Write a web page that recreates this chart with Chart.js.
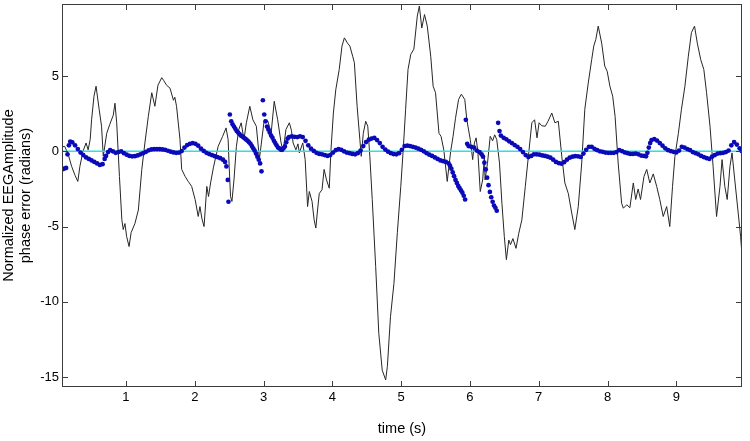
<!DOCTYPE html>
<html>
<head>
<meta charset="utf-8">
<script src="https://cdn.jsdelivr.net/npm/chart.js@4"></script>
<style>
  html, body { margin: 0; padding: 0; background: #fff; }
  #wrap { width: 750px; height: 441px; }
</style>
</head>
<body>
<div id="wrap"><canvas id="eeg"></canvas></div>
<script>
// axis ticks
const xTicks = [1, 2, 3, 4, 5, 6, 7, 8, 9];
const yTicks = [-15, -10, -5, 0, 5];

// black trace: normalized EEG amplitude
const eegTime = [
  0.07, 0.11, 0.16, 0.21, 0.26, 0.30, 0.33, 0.375, 0.42, 0.45, 0.48, 0.50, 0.535, 0.565, 0.61, 0.645, 0.67, 0.72, 0.765, 0.815,
  0.84, 0.865, 0.905, 0.94, 0.96, 0.985, 1.01, 1.045, 1.075, 1.13, 1.18, 1.23, 1.275, 1.325, 1.375, 1.42, 1.465, 1.52, 1.55, 1.59,
  1.64, 1.69, 1.71, 1.735, 1.785, 1.81, 1.86, 1.905, 1.955, 2.005, 2.05, 2.075, 2.105, 2.135, 2.175, 2.2, 2.23, 2.27, 2.34, 2.405,
  2.455, 2.485, 2.50, 2.52, 2.54, 2.57, 2.605, 2.64, 2.675, 2.715, 2.75, 2.80, 2.845, 2.895, 2.94, 3.01, 3.065, 3.11, 3.155, 3.205,
  3.255, 3.285, 3.325, 3.375, 3.405, 3.43, 3.47, 3.50, 3.52, 3.57, 3.605, 3.64, 3.665, 3.705, 3.735, 3.76, 3.785, 3.81, 3.85, 3.88,
  3.915, 3.955, 3.98, 4.015, 4.05, 4.10, 4.14, 4.175, 4.22, 4.255, 4.295, 4.32, 4.36, 4.40, 4.42, 4.45, 4.485, 4.515, 4.545, 4.58,
  4.63, 4.675, 4.725, 4.775, 4.80, 4.845, 4.895, 4.945, 4.995, 5.03, 5.065, 5.10, 5.14, 5.185, 5.235, 5.265, 5.30, 5.34, 5.38, 5.43,
  5.465, 5.50, 5.55, 5.58, 5.62, 5.67, 5.72, 5.755, 5.79, 5.835, 5.875, 5.925, 5.955, 6.005, 6.04, 6.065, 6.09, 6.115, 6.15, 6.185,
  6.21, 6.22, 6.255, 6.295, 6.33, 6.36, 6.39, 6.43, 6.465, 6.50, 6.53, 6.565, 6.59, 6.625, 6.67, 6.71, 6.755, 6.805, 6.855, 6.90,
  6.94, 6.975, 7.005, 7.045, 7.095, 7.135, 7.19, 7.235, 7.285, 7.335, 7.38, 7.43, 7.48, 7.525, 7.575, 7.625, 7.67, 7.72, 7.77, 7.80,
  7.83, 7.865, 7.915, 7.96, 7.995, 8.035, 8.075, 8.11, 8.155, 8.205, 8.23, 8.28, 8.325, 8.375, 8.41, 8.445, 8.48, 8.53, 8.57, 8.615,
  8.665, 8.715, 8.76, 8.81, 8.86, 8.905, 8.945, 8.98, 9.03, 9.075, 9.125, 9.175, 9.22, 9.265, 9.305, 9.355, 9.40, 9.44, 9.49, 9.535,
  9.585, 9.635, 9.665, 9.705, 9.74, 9.78, 9.81, 9.85, 9.90, 9.935, 9.955
];
const eegAmp = [
  0.3, 0.33, -0.2, -1.0, -1.6, -2.0, -1.0, 0.0, 0.56, 0.1, 0.8, 2.1, 3.67, 4.33, 2.8, 1.67, -0.33, 1.2, 1.8, 2.4,
  3.2, 1.9, -1.67, -4.55, -5.2, -4.8, -5.67, -6.33, -5.4, -4.8, -3.9, -1.2, 0.56, 2.33, 3.9, 3.0, 4.4, 4.9, 4.7, 4.4,
  4.2, 3.4, 3.6, 3.0, 0.8, -1.2, -1.67, -2.0, -2.33, -3.2, -4.33, -3.67, -4.5, -5.0, -2.33, -3.0, -2.1, -1.1, 0.33, 1.0,
  1.56, 0.78, -1.0, -3.0, -3.33, -1.9, 0.33, 1.45, 1.9, 0.78, 1.9, 3.0, 2.1, 1.67, -0.5, 2.1, 2.0, 1.2, 3.33, 2.1,
  0.56, 0.0, 1.45, 1.9, 1.4, 0.56, 0.1, 0.5, -0.1, 0.56, -0.55, -3.67, -2.67, -3.33, -4.55, -5.1, -3.9, -2.8, -2.55, -1.2,
  -1.9, -2.45, 0.1, 2.55, 4.1, 5.45, 7.0, 7.55, 7.2, 7.0, 6.33, 5.9, 3.0, 0.78, -0.33, 1.2, 2.0, 1.67, -0.33, -3.2,
  -7.67, -12.1, -14.55, -15.2, -14.3, -11.0, -8.8, -5.4, -2.33, 0.1, 2.8, 5.45, 6.45, 6.8, 9.0, 9.67, 8.2, 9.1, 8.33, 6.33,
  4.33, 3.9, 1.2, 1.0, 0.1, -2.0, 0.0, 1.0, 2.2, 3.45, 3.8, 3.45, 2.1, 0.78, -0.55, 0.56, 0.9, 0.0, -2.67, -1.9,
  -0.33, -1.9, -0.8, 1.0, 0.7, 1.1, 0.78, -0.78, -3.45, -5.67, -7.2, -5.9, -6.2, -5.8, -6.45, -5.45, -4.55, -2.33, -0.1, 1.9,
  2.1, 0.9, 1.9, 1.7, 1.67, 2.0, 2.55, 1.9, 2.0, -0.33, -2.1, -2.8, -4.1, -5.2, -3.67, -0.78, 2.8, 4.55, 6.1, 7.0,
  7.45, 8.33, 7.2, 5.67, 5.33, 4.33, 3.67, 2.33, -0.78, -3.45, -3.78, -3.55, -3.75, -2.1, -3.2, -2.5, -3.2, -1.67, -1.2, -2.1,
  -1.5, -2.33, -3.2, -4.33, -3.67, -5.0, -2.33, -0.33, 1.2, 2.8, 4.33, 6.33, 7.9, 8.33, 7.2, 6.1, 5.45, 3.9, 1.67, -1.0,
  -4.33, -2.33, -0.55, -2.33, -3.2, -1.0, -0.1, -1.9, -4.1, -5.67, -6.9
];

// blue dots: phase error (radians), one entry per dot
const phaseTime = [
  0.07, 0.10, 0.13, 0.15, 0.17, 0.19, 0.22, 0.26, 0.30, 0.34, 0.38, 0.42, 0.46, 0.50, 0.54, 0.58, 0.62, 0.66, 0.69, 0.71,
  0.74, 0.77, 0.81, 0.85, 0.89, 0.93, 0.97, 1.01, 1.05, 1.09, 1.13, 1.17, 1.21, 1.25, 1.29, 1.33, 1.37, 1.41, 1.45, 1.49,
  1.53, 1.57, 1.61, 1.65, 1.69, 1.73, 1.77, 1.81, 1.85, 1.89, 1.93, 1.97, 2.01, 2.05, 2.09, 2.13, 2.17, 2.21, 2.25, 2.29,
  2.33, 2.37, 2.41, 2.44, 2.46, 2.48, 2.49, 2.51, 2.53, 2.55, 2.57, 2.59, 2.61, 2.63, 2.65, 2.67, 2.69, 2.71, 2.73, 2.75,
  2.77, 2.79, 2.81, 2.83, 2.85, 2.87, 2.89, 2.91, 2.93, 2.95, 2.97, 2.99, 3.01, 3.03, 3.05, 3.07, 3.09, 3.11, 3.13, 3.15,
  3.17, 3.19, 3.21, 3.23, 3.25, 3.27, 3.29, 3.31, 3.33, 3.35, 3.37, 3.41, 3.45, 3.49, 3.53, 3.57, 3.61, 3.65, 3.69, 3.73,
  3.77, 3.81, 3.85, 3.89, 3.93, 3.97, 4.01, 4.05, 4.09, 4.13, 4.17, 4.21, 4.25, 4.29, 4.33, 4.37, 4.41, 4.45, 4.49, 4.53,
  4.57, 4.61, 4.65, 4.69, 4.73, 4.77, 4.81, 4.85, 4.89, 4.93, 4.97, 5.01, 5.05, 5.09, 5.13, 5.17, 5.21, 5.25, 5.29, 5.33,
  5.37, 5.41, 5.45, 5.49, 5.53, 5.57, 5.61, 5.65, 5.69, 5.71, 5.73, 5.75, 5.77, 5.79, 5.81, 5.83, 5.85, 5.87, 5.89, 5.91,
  5.93, 5.94, 5.96, 5.98, 6.02, 6.06, 6.10, 6.14, 6.17, 6.19, 6.21, 6.23, 6.25, 6.27, 6.29, 6.31, 6.33, 6.35, 6.37, 6.39,
  6.41, 6.43, 6.45, 6.49, 6.53, 6.57, 6.61, 6.65, 6.69, 6.73, 6.77, 6.81, 6.85, 6.89, 6.93, 6.97, 7.01, 7.05, 7.09, 7.13,
  7.17, 7.21, 7.25, 7.29, 7.33, 7.37, 7.41, 7.45, 7.49, 7.53, 7.57, 7.61, 7.65, 7.69, 7.73, 7.77, 7.81, 7.85, 7.89, 7.93,
  7.97, 8.01, 8.05, 8.09, 8.13, 8.17, 8.21, 8.25, 8.29, 8.33, 8.37, 8.41, 8.45, 8.49, 8.53, 8.56, 8.58, 8.60, 8.62, 8.64,
  8.68, 8.72, 8.76, 8.80, 8.84, 8.88, 8.92, 8.96, 9.00, 9.04, 9.08, 9.12, 9.16, 9.20, 9.24, 9.28, 9.32, 9.36, 9.40, 9.44,
  9.48, 9.52, 9.56, 9.60, 9.64, 9.68, 9.72, 9.76, 9.80, 9.84, 9.88, 9.92, 9.95
];
const phaseErr = [
  -1.2, -1.15, -1.1, -0.2, 0.4, 0.65, 0.6, 0.4, 0.15, -0.08, -0.25, -0.4, -0.5, -0.6, -0.7, -0.8, -0.9, -0.85, -0.5, -0.3,
  -0.05, 0.08, 0.0, -0.1, -0.05, 0.0, -0.12, -0.22, -0.3, -0.33, -0.32, -0.27, -0.2, -0.12, -0.03, 0.07, 0.13, 0.15, 0.15, 0.15,
  0.13, 0.1, 0.04, -0.02, -0.07, -0.1, -0.08, 0.02, 0.25, 0.42, 0.5, 0.55, 0.5, 0.38, 0.18, 0.03, -0.1, -0.18, -0.25, -0.32,
  -0.38, -0.45, -0.55, -0.7, -1.0, -1.9, -3.35, 2.45, 2.0, 1.8, 1.65, 1.5, 1.35, 1.25, 1.15, 1.05, 1.0, 0.92, 0.85, 0.78,
  0.7, 0.6, 0.5, 0.35, 0.2, 0.05, -0.15, -0.35, -0.55, -0.8, -1.33, 3.4, 2.45, 2.0, 1.65, 1.45, 1.25, 1.05, 0.9, 0.7,
  0.55, 0.4, 0.25, 0.2, 0.12, 0.1, 0.2, 0.33, 0.6, 0.85, 0.95, 1.0, 0.97, 0.95, 1.0, 0.95, 0.7, 0.4, 0.18, 0.03,
  -0.1, -0.17, -0.2, -0.25, -0.3, -0.25, -0.08, 0.08, 0.15, 0.1, 0.0, -0.08, -0.12, -0.17, -0.2, -0.12, 0.05, 0.35, 0.62, 0.78,
  0.85, 0.9, 0.75, 0.55, 0.3, 0.12, -0.02, -0.12, -0.18, -0.2, -0.12, 0.1, 0.35, 0.38, 0.35, 0.3, 0.25, 0.18, 0.1, 0.0,
  -0.12, -0.22, -0.3, -0.4, -0.5, -0.6, -0.65, -0.7, -0.8, -0.95, -1.15, -1.4, -1.65, -1.9, -2.1, -2.3, -2.45, -2.6, -2.75, -2.95,
  -3.2, 2.1, 0.5, 0.35, 0.3, 0.25, 0.05, -0.05, -0.2, -0.35, -0.75, -1.2, -1.75, -2.25, -2.7, -3.05, -3.35, -3.6, -3.75, -3.95,
  1.9, 1.35, 1.05, 0.9, 0.8, 0.67, 0.55, 0.42, 0.3, 0.15, -0.05, -0.25, -0.38, -0.3, -0.2, -0.2, -0.22, -0.27, -0.3, -0.35,
  -0.42, -0.55, -0.7, -0.78, -0.82, -0.72, -0.55, -0.42, -0.35, -0.32, -0.33, -0.37, -0.15, 0.1, 0.3, 0.3, 0.17, 0.08, 0.0, -0.03,
  -0.08, -0.1, -0.1, -0.1, -0.05, 0.08, 0.02, -0.07, -0.12, -0.17, -0.17, -0.15, -0.2, -0.28, -0.3, -0.33, -0.1, 0.25, 0.55, 0.75,
  0.82, 0.72, 0.55, 0.38, 0.2, 0.08, 0.02, -0.03, -0.07, 0.05, 0.3, 0.25, 0.15, 0.08, -0.05, -0.12, -0.2, -0.3, -0.38, -0.45,
  -0.5, -0.35, -0.25, -0.15, -0.12, -0.1, -0.05, 0.05, 0.4, 0.62, 0.45, 0.2, 0.02
];

// cyan zero reference line
const refTime = [0.07, 9.955];
const refValue = [0, 0];

// MATLAB-style box with inward ticks on all four sides
const matlabFrame = {
  id: "matlabFrame",
  afterDraw(chart) {
    const { ctx, chartArea: a, scales } = chart;
    const tl = 6;
    ctx.save();
    ctx.strokeStyle = "#3c3c3c";
    ctx.lineWidth = 1;
    ctx.strokeRect(Math.round(a.left) + 0.5, Math.round(a.top) + 0.5,
      Math.round(a.right - a.left) - 1, Math.round(a.bottom - a.top) - 1);
    ctx.beginPath();
    xTicks.forEach((v) => {
      const px = Math.round(scales.x.getPixelForValue(v)) + 0.5;
      ctx.moveTo(px, a.bottom);
      ctx.lineTo(px, a.bottom - tl);
      ctx.moveTo(px, a.top);
      ctx.lineTo(px, a.top + tl);
    });
    yTicks.forEach((v) => {
      const py = Math.round(scales.y.getPixelForValue(v)) + 0.5;
      ctx.moveTo(a.left, py);
      ctx.lineTo(a.left + tl, py);
      ctx.moveTo(a.right, py);
      ctx.lineTo(a.right - tl, py);
    });
    ctx.stroke();
    ctx.restore();
  },
};

const tickFont = { family: "'Liberation Sans', Arial, sans-serif", size: 13 };
const titleFont = { family: "'Liberation Sans', Arial, sans-serif", size: 14.5, lineHeight: 1.2 };

const ctx = document.getElementById("eeg").getContext("2d");

new Chart(ctx, {
  type: "line",
  data: {
    datasets: [
      {
        label: "phase error",
        data: phaseTime.map((t, i) => ({ x: t, y: phaseErr[i] })),
        showLine: false,
        pointRadius: 2.35,
        pointBorderWidth: 0,
        pointBackgroundColor: "#0a0ab8",
        order: 0,
      },
      {
        label: "zero",
        data: refTime.map((t, i) => ({ x: t, y: refValue[i] })),
        borderColor: "#2ee0e0",
        borderWidth: 1.5,
        pointRadius: 0,
        order: 1,
      },
      {
        label: "EEG amplitude",
        data: eegTime.map((t, i) => ({ x: t, y: eegAmp[i] })),
        borderColor: "#262626",
        borderWidth: 1,
        pointRadius: 0,
        tension: 0,
        order: 2,
      },
    ],
  },
  options: {
    responsive: true,
    maintainAspectRatio: false,
    animation: false,
    layout: { padding: { top: 4, right: 8, left: 0, bottom: 0 } },
    plugins: {
      legend: { display: false },
      tooltip: { enabled: false },
    },
    scales: {
      x: {
        type: "linear",
        min: 0.07,
        max: 9.955,
        grid: { display: false, drawTicks: false },
        border: { display: false },
        afterBuildTicks: (s) => { s.ticks = xTicks.map((v) => ({ value: v })); },
        afterFit: (s) => { s.height = 54; s.paddingLeft = 0; s.paddingRight = 0; },
        ticks: { color: "#000", font: tickFont, padding: 3, maxRotation: 0 },
        title: {
          display: true,
          text: "time (s)",
          color: "#000",
          font: titleFont,
          padding: { top: 0, bottom: 3 },
        },
      },
      y: {
        min: -15.67,
        max: 9.8,
        grid: { display: false, drawTicks: false },
        border: { display: false },
        afterBuildTicks: (s) => { s.ticks = yTicks.map((v) => ({ value: v })); },
        afterFit: (s) => { s.width = 62; s.paddingTop = 0; s.paddingBottom = 0; },
        ticks: { color: "#000", font: tickFont, padding: 3 },
        title: {
          display: true,
          text: ["Normalized EEGAmplitude", "phase error (radians)"],
          color: "#000",
          font: titleFont,
          padding: { top: 0, bottom: 0 },
        },
      },
    },
  },
  plugins: [matlabFrame],
});
</script>
</body>
</html>
